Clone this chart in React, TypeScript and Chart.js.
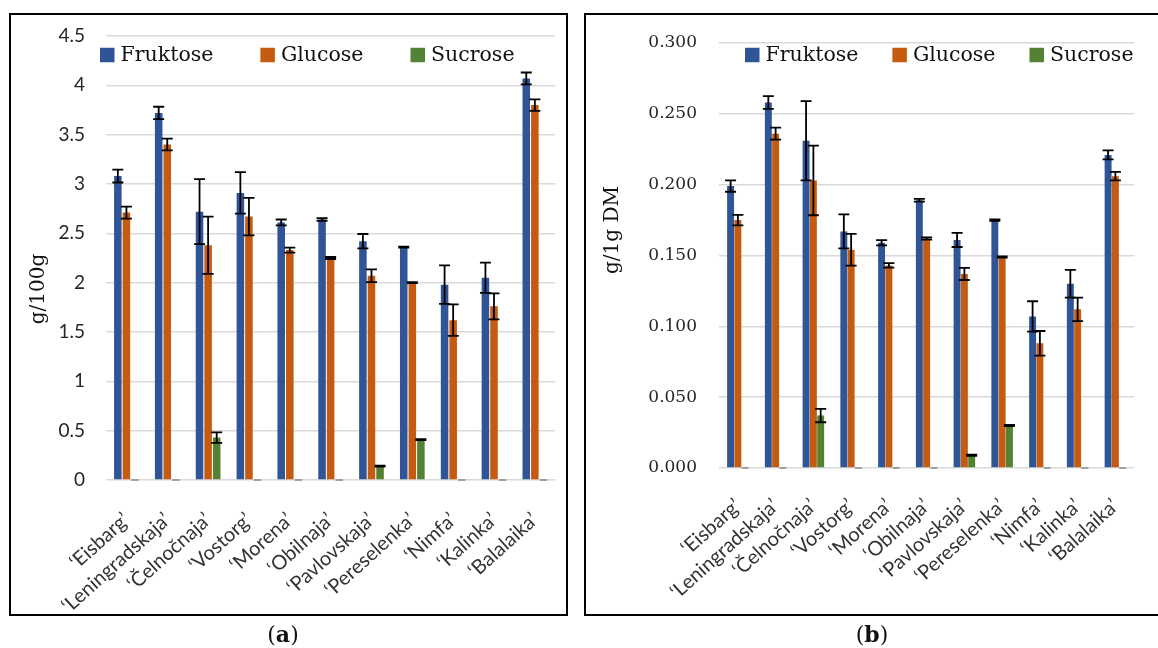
import React, { useEffect, useRef } from 'react';
import { Chart, registerables } from 'chart.js';

Chart.register(...registerables);

// ---------- data ----------
const categories = [
  '‘Eisbarg’', '‘Leningradskaja’', '‘Čelnočnaja’', '‘Vostorg’', '‘Morena’', '‘Obilnaja’',
  '‘Pavlovskaja’', '‘Pereselenka’', '‘Nimfa’', '‘Kalinka’', '‘Balalaika’',
];
const seriesNames = ['Fruktose', 'Glucose', 'Sucrose'];

// panel (a): g/100g
const fructoseA = [3.08, 3.72, 2.72, 2.91, 2.61, 2.64, 2.42, 2.36, 1.98, 2.05, 4.07];
const fructoseAErr = [0.065, 0.063, 0.33, 0.21, 0.03, 0.013, 0.073, 0.005, 0.195, 0.153, 0.06];
const glucoseA = [2.71, 3.40, 2.38, 2.67, 2.33, 2.25, 2.07, 2.00, 1.62, 1.76, 3.80];
const glucoseAErr = [0.06, 0.06, 0.29, 0.19, 0.025, 0.01, 0.064, 0.005, 0.16, 0.132, 0.058];
const sucroseA = [0, 0, 0.43, 0, 0, 0, 0.14, 0.41, 0, 0, 0];
const sucroseAErr = [0, 0, 0.053, 0, 0, 0, 0.005, 0.005, 0, 0, 0];
const yTicksA = [0, 0.5, 1, 1.5, 2, 2.5, 3, 3.5, 4, 4.5];

// panel (b): g/1g DM
const fructoseB = [0.199, 0.258, 0.231, 0.167, 0.159, 0.189, 0.161, 0.175, 0.107, 0.130, 0.221];
const fructoseBErr = [0.004, 0.0045, 0.028, 0.012, 0.0018, 0.001, 0.005, 0.0005, 0.0107, 0.0098, 0.0032];
const glucoseB = [0.175, 0.236, 0.203, 0.154, 0.143, 0.162, 0.137, 0.149, 0.088, 0.112, 0.206];
const glucoseBErr = [0.0037, 0.0042, 0.0246, 0.0112, 0.0016, 0.0008, 0.0043, 0.0004, 0.0087, 0.0083, 0.003];
const sucroseB = [0, 0, 0.037, 0, 0, 0, 0.009, 0.030, 0, 0, 0];
const sucroseBErr = [0, 0, 0.0047, 0, 0, 0, 0.0004, 0.0004, 0, 0, 0];
const yTicksB = [0, 0.05, 0.1, 0.15, 0.2, 0.25, 0.3];

const seriesColors = ['#2F5597', '#C55A11', '#548235'];

// ---------- plugins ----------
const errorBarPlugin = {
  id: 'errorBars',
  afterDatasetsDraw(chart: any) {
    const { ctx } = chart;
    const yScale = chart.scales.y;
    chart.data.datasets.forEach((ds: any, di: number) => {
      const meta = chart.getDatasetMeta(di);
      const errs = ds.errors || [];
      meta.data.forEach((bar: any, i: number) => {
        const v = ds.data[i];
        const e = errs[i] || 0;
        ctx.save();
        if (v === 0) {
          const y0 = yScale.getPixelForValue(0);
          ctx.strokeStyle = '#8a8a8a';
          ctx.lineWidth = 1.5;
          ctx.beginPath();
          ctx.moveTo(bar.x - bar.width / 2, y0);
          ctx.lineTo(bar.x + bar.width / 2, y0);
          ctx.stroke();
        } else if (e > 0) {
          const yt = yScale.getPixelForValue(v + e);
          const yb = yScale.getPixelForValue(v - e);
          const cap = 5.5;
          ctx.strokeStyle = '#000';
          ctx.lineWidth = 1.8;
          ctx.beginPath();
          ctx.moveTo(bar.x, yt);
          ctx.lineTo(bar.x, yb);
          ctx.moveTo(bar.x - cap, yt);
          ctx.lineTo(bar.x + cap, yt);
          ctx.moveTo(bar.x - cap, yb);
          ctx.lineTo(bar.x + cap, yb);
          ctx.stroke();
        }
        ctx.restore();
      });
    });
  },
};

const customLegendPlugin = {
  id: 'customLegend',
  afterDraw(chart: any, _args: any, opts: any) {
    const { ctx } = chart;
    ctx.save();
    ctx.font = opts.font;
    ctx.textBaseline = 'middle';
    ctx.textAlign = 'left';
    let x = opts.x;
    chart.data.datasets.forEach((ds: any) => {
      ctx.fillStyle = ds.backgroundColor;
      ctx.fillRect(x, opts.y - opts.box / 2, opts.box, opts.box);
      x += opts.box + opts.textGap;
      ctx.fillStyle = opts.color;
      ctx.fillText(ds.label, x, opts.y + 1);
      x += ctx.measureText(ds.label).width + opts.itemGap;
    });
    ctx.restore();
  },
};

const axisTitlePlugin = {
  id: 'axisTitle',
  afterDraw(chart: any, _args: any, opts: any) {
    const { ctx } = chart;
    ctx.save();
    ctx.translate(opts.x, opts.y);
    ctx.rotate(-Math.PI / 2);
    ctx.font = opts.font;
    ctx.fillStyle = opts.color;
    ctx.textAlign = 'center';
    ctx.textBaseline = 'middle';
    ctx.fillText(opts.text, 0, 0);
    ctx.restore();
  },
};

type PanelCfg = {
  values: number[][];
  errors: number[][];
  yTicks: number[];
  yMax: number;
  fmt: (v: number) => string;
  tickFont: any;
  yAxisWidth: number;
  xAxisHeight: number;
  padTop: number;
  padRight: number;
  tickPad: number;
  xTickPad: number;
  catPct: number;
  barPct: number;
  legendX: number;
  legendGap: number;
  title: string;
  titleX: number;
  titleY: number;
};

function makeConfig(p: PanelCfg): any {
  return {
    type: 'bar',
    data: {
      labels: categories,
      datasets: seriesNames.map((name, k) => ({
        label: name,
        data: p.values[k],
        errors: p.errors[k],
        backgroundColor: seriesColors[k],
        borderWidth: 0,
        categoryPercentage: p.catPct,
        barPercentage: p.barPct,
      })),
    },
    options: {
      responsive: false,
      animation: false,
      devicePixelRatio: 1,
      layout: { padding: { top: p.padTop, right: p.padRight, left: 0, bottom: 0 } },
      plugins: {
        legend: { display: false },
        tooltip: { enabled: false },
        customLegend: {
          x: p.legendX, y: 55, box: 14.5, textGap: 6, itemGap: p.legendGap,
          font: '20.5px "DejaVu Serif"', color: '#111',
        },
        axisTitle: {
          text: p.title, x: p.titleX, y: p.titleY,
          font: '20px "DejaVu Serif"', color: '#111',
        },
      },
      scales: {
        x: {
          grid: { display: false, drawTicks: false },
          border: { display: false },
          ticks: {
            autoSkip: false, minRotation: 42, maxRotation: 42,
            font: { family: 'Lato', size: 20 }, color: '#333', padding: p.xTickPad,
          },
          afterFit: (s: any) => { s.height = p.xAxisHeight; },
        },
        y: {
          min: 0, max: p.yMax,
          grid: { color: '#d9d9d9', lineWidth: 1.5, drawTicks: false },
          border: { display: false },
          ticks: {
            padding: p.tickPad,
            font: p.tickFont, color: '#262626',
            callback: (v: any) => p.fmt(Number(v)),
          },
          afterBuildTicks: (s: any) => { s.ticks = p.yTicks.map((v) => ({ value: v })); },
          afterFit: (s: any) => { s.width = p.yAxisWidth; },
        },
      },
    },
    plugins: [errorBarPlugin, customLegendPlugin, axisTitlePlugin],
  };
}

const panelA: PanelCfg = {
  values: [fructoseA, glucoseA, sucroseA],
  errors: [fructoseAErr, glucoseAErr, sucroseAErr],
  yTicks: yTicksA, yMax: 4.5,
  fmt: (v) => String(v),
  tickFont: { family: 'Lato', size: 19 },
  yAxisWidth: 106, xAxisHeight: 168, padTop: 36, padRight: 24, tickPad: 21, xTickPad: 28,
  catPct: 0.63, barPct: 0.88,
  legendX: 100, legendGap: 47,
  title: 'g/100g', titleX: 39, titleY: 289,
};

const panelB: PanelCfg = {
  values: [fructoseB, glucoseB, sucroseB],
  errors: [fructoseBErr, glucoseBErr, sucroseBErr],
  yTicks: yTicksB, yMax: 0.3,
  fmt: (v) => v.toFixed(3),
  tickFont: { family: 'DejaVu Serif', size: 17 },
  yAxisWidth: 139, xAxisHeight: 180, padTop: 43, padRight: 12, tickPad: 22, xTickPad: 26,
  catPct: 0.58, barPct: 0.95,
  legendX: 165, legendGap: 34,
  title: 'g/1g DM', titleX: 33, titleY: 230,
};

function Panel({ cfg, left, width }: { cfg: PanelCfg; left: number; width: number }) {
  const ref = useRef<HTMLCanvasElement | null>(null);
  useEffect(() => {
    if (!ref.current) return;
    const chart = new Chart(ref.current, makeConfig(cfg));
    return () => chart.destroy();
  }, [cfg]);
  return (
    <canvas
      ref={ref}
      width={width}
      height={648}
      style={{ position: 'absolute', left, top: 0, width, height: 648 }}
    />
  );
}

export default function App() {
  const caption: React.CSSProperties = {
    position: 'absolute', top: 620, width: 60, textAlign: 'center',
    fontFamily: '"DejaVu Serif", serif', fontSize: 22, color: '#111', lineHeight: '28px',
  };
  return (
    <div style={{ position: 'fixed', left: 0, top: 0, width: 1158, height: 648, background: '#fff', overflow: 'hidden' }}>
      <Panel cfg={panelA} left={0} width={580} />
      <Panel cfg={panelB} left={580} width={578} />
      <div style={{ position: 'absolute', left: 9, top: 13, width: 559, height: 603, boxSizing: 'border-box', border: '2px solid #000', pointerEvents: 'none' }} />
      <div style={{ position: 'absolute', left: 584, top: 13, width: 620, height: 603, boxSizing: 'border-box', border: '2px solid #000', pointerEvents: 'none' }} />
      <div style={{ ...caption, left: 253 }}>(<b>a</b>)</div>
      <div style={{ ...caption, left: 842 }}>(<b>b</b>)</div>
    </div>
  );
}
